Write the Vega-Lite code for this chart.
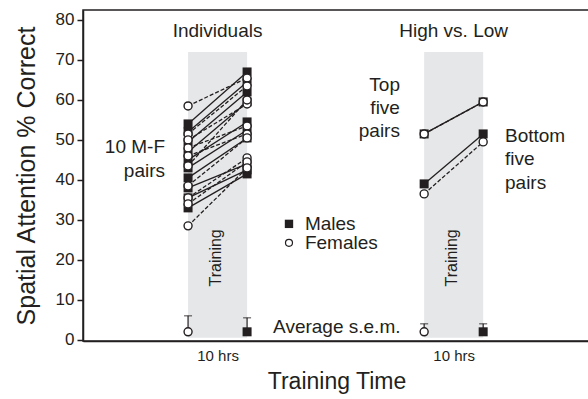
{
  "$schema": "https://vega.github.io/schema/vega-lite/v6.json",
  "width": 507,
  "height": 331,
  "autosize": {"type": "none"},
  "padding": {"left": 83, "top": 10, "right": 0, "bottom": 58},
  "config": {
    "view": {"stroke": "#231f20", "strokeWidth": 1.5},
    "font": "Liberation Sans",
    "text": {"font": "Liberation Sans", "color": "#231f20"}
  },
  "datasets": {
    "pts": [
      {"id": "M1", "sex": "Males", "t": 0, "v": 54}, {"id": "M1", "sex": "Males", "t": 10, "v": 67},
      {"id": "M2", "sex": "Males", "t": 0, "v": 52}, {"id": "M2", "sex": "Males", "t": 10, "v": 64.5},
      {"id": "M3", "sex": "Males", "t": 0, "v": 49.5}, {"id": "M3", "sex": "Males", "t": 10, "v": 62},
      {"id": "M4", "sex": "Males", "t": 0, "v": 47}, {"id": "M4", "sex": "Males", "t": 10, "v": 59.5},
      {"id": "M5", "sex": "Males", "t": 0, "v": 45}, {"id": "M5", "sex": "Males", "t": 10, "v": 54.5},
      {"id": "M6", "sex": "Males", "t": 0, "v": 43}, {"id": "M6", "sex": "Males", "t": 10, "v": 52.5},
      {"id": "M7", "sex": "Males", "t": 0, "v": 40.5}, {"id": "M7", "sex": "Males", "t": 10, "v": 50.5},
      {"id": "M8", "sex": "Males", "t": 0, "v": 38}, {"id": "M8", "sex": "Males", "t": 10, "v": 44},
      {"id": "M9", "sex": "Males", "t": 0, "v": 35.5}, {"id": "M9", "sex": "Males", "t": 10, "v": 42.5},
      {"id": "M10", "sex": "Males", "t": 0, "v": 33}, {"id": "M10", "sex": "Males", "t": 10, "v": 41.5},
      {"id": "F1", "sex": "Females", "t": 0, "v": 58.5}, {"id": "F1", "sex": "Females", "t": 10, "v": 65.5},
      {"id": "F2", "sex": "Females", "t": 0, "v": 51.5}, {"id": "F2", "sex": "Females", "t": 10, "v": 63.5},
      {"id": "F3", "sex": "Females", "t": 0, "v": 50}, {"id": "F3", "sex": "Females", "t": 10, "v": 59},
      {"id": "F4", "sex": "Females", "t": 0, "v": 48}, {"id": "F4", "sex": "Females", "t": 10, "v": 53.5},
      {"id": "F5", "sex": "Females", "t": 0, "v": 46}, {"id": "F5", "sex": "Females", "t": 10, "v": 51.5},
      {"id": "F6", "sex": "Females", "t": 0, "v": 43.5}, {"id": "F6", "sex": "Females", "t": 10, "v": 60},
      {"id": "F7", "sex": "Females", "t": 0, "v": 38.5}, {"id": "F7", "sex": "Females", "t": 10, "v": 50.5},
      {"id": "F8", "sex": "Females", "t": 0, "v": 35.5}, {"id": "F8", "sex": "Females", "t": 10, "v": 45.5},
      {"id": "F9", "sex": "Females", "t": 0, "v": 34}, {"id": "F9", "sex": "Females", "t": 10, "v": 44.5},
      {"id": "F10", "sex": "Females", "t": 0, "v": 28.5}, {"id": "F10", "sex": "Females", "t": 10, "v": 43},
      {"id": "MT", "sex": "Males", "t": 40, "v": 51.5}, {"id": "MT", "sex": "Males", "t": 50, "v": 59.5},
      {"id": "FT", "sex": "Females", "t": 40, "v": 51.5}, {"id": "FT", "sex": "Females", "t": 50, "v": 59.5},
      {"id": "MB", "sex": "Males", "t": 40, "v": 39}, {"id": "MB", "sex": "Males", "t": 50, "v": 51.5},
      {"id": "FB", "sex": "Females", "t": 40, "v": 36.5}, {"id": "FB", "sex": "Females", "t": 50, "v": 49.5}
    ],
    "sem": [
      {"sex": "Females", "t": 0, "v": 2, "hi": 6},
      {"sex": "Males", "t": 10, "v": 2, "hi": 5.5},
      {"sex": "Females", "t": 40, "v": 2, "hi": 4},
      {"sex": "Males", "t": 50, "v": 2, "hi": 4}
    ],
    "bands": [
      {"t0": 0, "t1": 10, "lo": 0.5, "hi": 72},
      {"t0": 40, "t1": 50, "lo": 0.5, "hi": 72}
    ],
    "one": [{}]
  },
  "encoding": {
    "x": {
      "type": "quantitative",
      "scale": {"domain": [-17.8, 68.1], "nice": false, "zero": false},
      "axis": {
        "title": "Training Time",
        "titleFont": "Liberation Sans",
        "titleFontSize": 23,
        "titleFontWeight": "normal",
        "titleColor": "#231f20",
        "titlePadding": 7,
        "values": [5, 45],
        "labelExpr": "'10 hrs'",
        "labelFontSize": 15,
        "labelColor": "#231f20",
        "labelPadding": 7,
        "ticks": false,
        "grid": false,
        "domainColor": "#231f20",
        "domainWidth": 1.5
      }
    },
    "y": {
      "type": "quantitative",
      "scale": {"domain": [-0.3, 82.5], "nice": false, "zero": false},
      "axis": {
        "title": "Spatial Attention % Correct",
        "titleFont": "Liberation Sans",
        "titleFontSize": 25,
        "titleFontWeight": "normal",
        "titleColor": "#231f20",
        "titlePadding": 16,
        "values": [0, 10, 20, 30, 40, 50, 60, 70, 80],
        "labelFontSize": 17,
        "labelColor": "#231f20",
        "labelPadding": 3,
        "tickSize": 6,
        "tickWidth": 1.5,
        "tickColor": "#231f20",
        "grid": false,
        "domainColor": "#231f20",
        "domainWidth": 1.5
      }
    }
  },
  "layer": [
    {
      "data": {"name": "bands"},
      "mark": {"type": "rect", "color": "#e6e7e8"},
      "encoding": {
        "x": {"field": "t0", "type": "quantitative"},
        "x2": {"field": "t1"},
        "y": {"field": "lo", "type": "quantitative"},
        "y2": {"field": "hi"}
      }
    },
    {
      "data": {"name": "pts"},
      "transform": [{"filter": "datum.sex == 'Males'"}],
      "mark": {"type": "line", "color": "#231f20", "strokeWidth": 1.3},
      "encoding": {
        "x": {"field": "t", "type": "quantitative"},
        "y": {"field": "v", "type": "quantitative"},
        "detail": {"field": "id"}
      }
    },
    {
      "data": {"name": "pts"},
      "transform": [{"filter": "datum.sex == 'Females'"}],
      "mark": {"type": "line", "color": "#231f20", "strokeWidth": 1.3, "strokeDash": [4, 2]},
      "encoding": {
        "x": {"field": "t", "type": "quantitative"},
        "y": {"field": "v", "type": "quantitative"},
        "detail": {"field": "id"}
      }
    },
    {
      "data": {"name": "sem"},
      "mark": {"type": "rule", "color": "#231f20", "strokeWidth": 1.2},
      "encoding": {
        "x": {"field": "t", "type": "quantitative"},
        "y": {"field": "v", "type": "quantitative"},
        "y2": {"field": "hi"}
      }
    },
    {
      "data": {"name": "sem"},
      "mark": {"type": "point", "shape": "M-1,0L1,0", "size": 64, "stroke": "#231f20", "strokeWidth": 1.2, "filled": false},
      "encoding": {
        "x": {"field": "t", "type": "quantitative"},
        "y": {"field": "hi", "type": "quantitative"}
      }
    },
    {
      "data": {"name": "pts"},
      "transform": [{"filter": "datum.sex == 'Males'"}],
      "mark": {"type": "point", "shape": "square", "size": 81, "filled": true, "color": "#231f20", "opacity": 1},
      "encoding": {
        "x": {"field": "t", "type": "quantitative"},
        "y": {"field": "v", "type": "quantitative"}
      }
    },
    {
      "data": {"name": "sem"},
      "transform": [{"filter": "datum.sex == 'Males'"}],
      "mark": {"type": "point", "shape": "square", "size": 81, "filled": true, "color": "#231f20", "opacity": 1},
      "encoding": {
        "x": {"field": "t", "type": "quantitative"},
        "y": {"field": "v", "type": "quantitative"}
      }
    },
    {
      "data": {"name": "pts"},
      "transform": [{"filter": "datum.sex == 'Females'"}],
      "mark": {"type": "point", "shape": "circle", "size": 64, "filled": false, "fill": "white", "fillOpacity": 1, "stroke": "#231f20", "strokeWidth": 1.4, "opacity": 1},
      "encoding": {
        "x": {"field": "t", "type": "quantitative"},
        "y": {"field": "v", "type": "quantitative"}
      }
    },
    {
      "data": {"name": "sem"},
      "transform": [{"filter": "datum.sex == 'Females'"}],
      "mark": {"type": "point", "shape": "circle", "size": 64, "filled": false, "fill": "white", "fillOpacity": 1, "stroke": "#231f20", "strokeWidth": 1.4, "opacity": 1},
      "encoding": {
        "x": {"field": "t", "type": "quantitative"},
        "y": {"field": "v", "type": "quantitative"}
      }
    },
    {
      "data": {"name": "one"},
      "mark": {"type": "point", "shape": "square", "size": 70, "filled": true, "color": "#231f20", "opacity": 1},
      "encoding": {"x": {"datum": 17.1}, "y": {"datum": 29}}
    },
    {
      "data": {"name": "one"},
      "mark": {"type": "point", "shape": "circle", "size": 49, "filled": false, "fill": "white", "stroke": "#231f20", "strokeWidth": 1.2, "opacity": 1},
      "encoding": {"x": {"datum": 17.1}, "y": {"datum": 24.25}}
    },
    {
      "data": {"name": "one"},
      "mark": {"type": "text", "fontSize": 19, "align": "left", "baseline": "middle"},
      "encoding": {"x": {"datum": 19.8}, "y": {"datum": 29}, "text": {"value": "Males"}}
    },
    {
      "data": {"name": "one"},
      "mark": {"type": "text", "fontSize": 19, "align": "left", "baseline": "middle"},
      "encoding": {"x": {"datum": 19.8}, "y": {"datum": 24.25}, "text": {"value": "Females"}}
    },
    {
      "data": {"name": "one"},
      "mark": {"type": "text", "fontSize": 19, "align": "left", "baseline": "middle"},
      "encoding": {"x": {"datum": 14.4}, "y": {"datum": 3.25}, "text": {"value": "Average s.e.m."}}
    },
    {
      "data": {"name": "one"},
      "mark": {"type": "text", "fontSize": 19, "align": "center", "baseline": "middle"},
      "encoding": {"x": {"datum": 5}, "y": {"datum": 77.25}, "text": {"value": "Individuals"}}
    },
    {
      "data": {"name": "one"},
      "mark": {"type": "text", "fontSize": 19, "align": "center", "baseline": "middle"},
      "encoding": {"x": {"datum": 45}, "y": {"datum": 77.25}, "text": {"value": "High vs. Low"}}
    },
    {
      "data": {"name": "one"},
      "mark": {"type": "text", "fontSize": 19, "align": "right", "baseline": "middle", "lineHeight": 24},
      "encoding": {"x": {"datum": -3.9}, "y": {"datum": 48.25}, "text": {"value": ["10 M-F", "pairs"]}}
    },
    {
      "data": {"name": "one"},
      "mark": {"type": "text", "fontSize": 19, "align": "right", "baseline": "middle", "lineHeight": 23},
      "encoding": {"x": {"datum": 35.9}, "y": {"datum": 63.75}, "text": {"value": ["Top", "five", "pairs"]}}
    },
    {
      "data": {"name": "one"},
      "mark": {"type": "text", "fontSize": 19, "align": "left", "baseline": "middle", "lineHeight": 23.5},
      "encoding": {"x": {"datum": 53.7}, "y": {"datum": 51}, "text": {"value": ["Bottom", "five", "pairs"]}}
    },
    {
      "data": {"name": "one"},
      "mark": {"type": "text", "fontSize": 16, "align": "center", "baseline": "middle", "angle": 270},
      "encoding": {"x": {"datum": 4.7}, "y": {"datum": 20.5}, "text": {"value": "Training"}}
    },
    {
      "data": {"name": "one"},
      "mark": {"type": "text", "fontSize": 16, "align": "center", "baseline": "middle", "angle": 270},
      "encoding": {"x": {"datum": 44.7}, "y": {"datum": 20.5}, "text": {"value": "Training"}}
    }
  ]
}
